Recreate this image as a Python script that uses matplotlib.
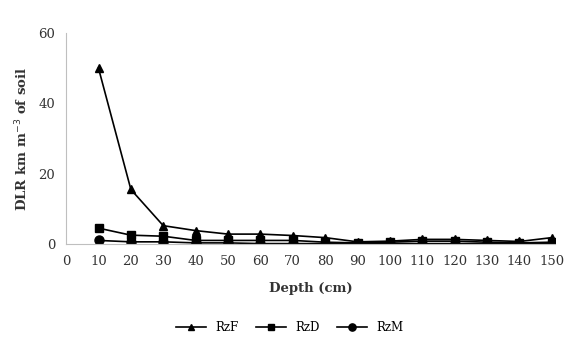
import matplotlib.pyplot as plt

depth = [10, 20, 30, 40, 50, 60, 70, 80, 90, 100, 110, 120, 130, 140, 150]
rzf = [50, 15.5, 5.2, 3.8, 2.8, 2.8, 2.4, 1.8, 0.6, 0.8, 1.3, 1.3, 1.0, 0.7, 1.8]
rzd = [4.5, 2.5, 2.2, 1.0, 1.0, 1.0, 1.0, 0.5, 0.3, 0.5, 0.8, 0.8, 0.5, 0.3, 0.5]
rzm = [1.0, 0.6, 0.6, 0.3, 0.3, 0.1, 0.1, 0.1, 0.1, 0.1, 0.1, 0.1, 0.1, 0.1, 0.1]
xticks = list(range(0, 160, 10))
yticks = [0, 20, 40, 60]

plt.rcParams['font.family'] = ['DejaVu Serif']

fig = plt.figure(figsize=(5.8, 3.48), dpi=100)
ax = fig.add_axes([0.114, 0.299, 0.843, 0.606])

ax.plot(depth, rzf, color='black', lw=1.2, marker='^', ms=5.5, label='RzF')
ax.plot(depth, rzd, color='black', lw=1.2, marker='s', ms=5.5, label='RzD')
ax.plot(depth, rzm, color='black', lw=1.2, marker='o', ms=6.5, label='RzM')

ax.set_xlim(0, 151)
ax.set_ylim(0, 60)
ax.set_xticks(xticks)
ax.set_yticks(yticks)
ax.tick_params(length=0, labelsize=9.5, colors='#333333', pad=8)
for s in ['top', 'right']:
    ax.spines[s].set_visible(False)
for s in ['left', 'bottom']:
    ax.spines[s].set_color('#bfbfbf')

ax.set_xlabel('Depth (cm)', fontsize=9.5, fontweight='bold', color='#333333', labelpad=10)
ax.set_ylabel('DLR km m$^{-3}$ of soil', fontsize=9.5, fontweight='bold', color='#333333', labelpad=6)

fig.legend(loc='lower center', bbox_to_anchor=(0.5, 0.01), ncol=3, frameon=False,
           fontsize=8.5, handlelength=2.5, columnspacing=1.5, markerscale=0.8)

fig.savefig('out.png', dpi=100)
